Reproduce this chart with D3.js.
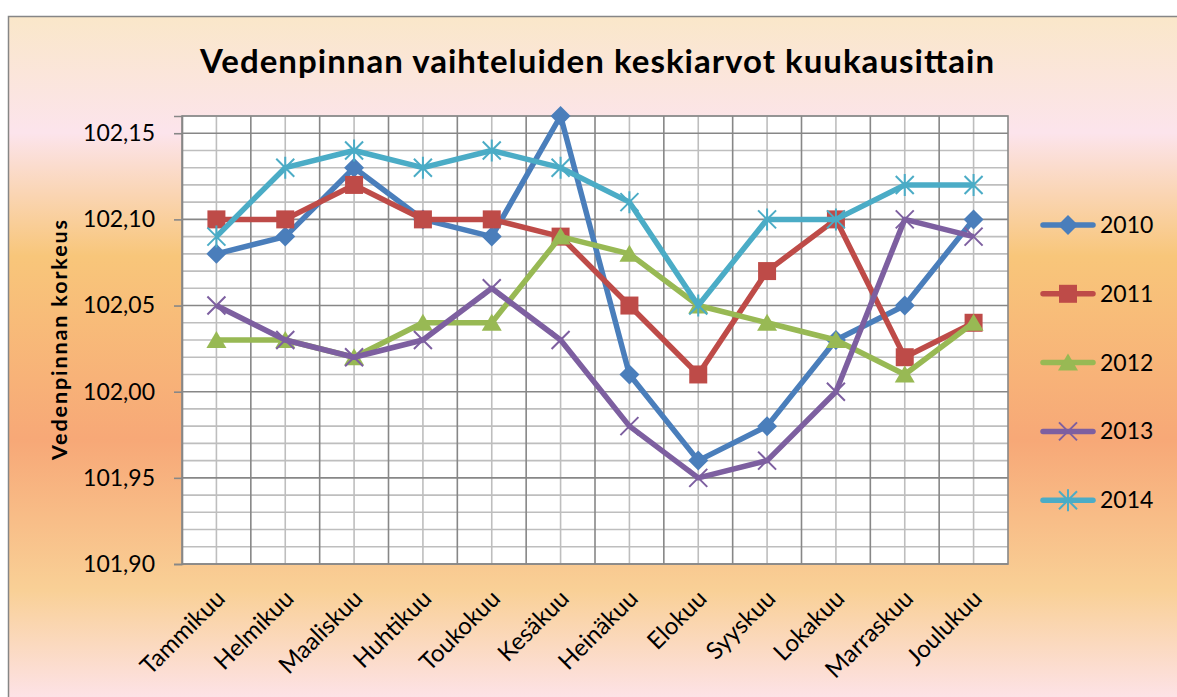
<!DOCTYPE html>
<html>
<head>
<meta charset="utf-8">
<script src="https://cdn.jsdelivr.net/npm/d3@7"></script>
<style>
  body { margin: 0; background: #fff; }
  svg { display: block; font-family: Lato, "Liberation Sans", sans-serif; }
</style>
</head>
<body>
<div id="chart"></div>
<script>
const months = ['Tammikuu', 'Helmikuu', 'Maaliskuu', 'Huhtikuu', 'Toukokuu', 'Kesäkuu',
  'Heinäkuu', 'Elokuu', 'Syyskuu', 'Lokakuu', 'Marraskuu', 'Joulukuu']
const years = ['2010', '2011', '2012', '2013', '2014']
const v2010 = [102.08, 102.09, 102.13, 102.10, 102.09, 102.16, 102.01, 101.96, 101.98, 102.03, 102.05, 102.10]
const v2011 = [102.10, 102.10, 102.12, 102.10, 102.10, 102.09, 102.05, 102.01, 102.07, 102.10, 102.02, 102.04]
const v2012 = [102.03, 102.03, 102.02, 102.04, 102.04, 102.09, 102.08, 102.05, 102.04, 102.03, 102.01, 102.04]
const v2013 = [102.05, 102.03, 102.02, 102.03, 102.06, 102.03, 101.98, 101.95, 101.96, 102.00, 102.10, 102.09]
const v2014 = [102.09, 102.13, 102.14, 102.13, 102.14, 102.13, 102.11, 102.05, 102.10, 102.10, 102.12, 102.12]
const yTicks = [101.90, 101.95, 102.00, 102.05, 102.10, 102.15]
const yMin = 101.90, yMax = 102.16

const title = 'Vedenpinnan vaihteluiden keskiarvot kuukausittain'
const yTitle = 'Vedenpinnan korkeus'

const colors = ['#4a7ebb', '#be4b48', '#98b954', '#7d5fa0', '#4bacc6']
const markers = ['diamond', 'square', 'triangle', 'x', 'star']
const series = [v2010, v2011, v2012, v2013, v2014]

const W = 1177, H = 697
const svg = d3.select('#chart').append('svg')
  .attr('width', W)
  .attr('height', H)

// background gradient
const grad = svg.append('defs').append('linearGradient')
  .attr('id', 'bg')
  .attr('gradientUnits', 'userSpaceOnUse')
  .attr('x1', 0).attr('y1', 16).attr('x2', 0).attr('y2', 697)
const stops = [[16, '#fae7c9'], [133, '#fce4ec'], [256, '#f8c67a'], [440, '#f7a877'], [590, '#f9d096'], [697, '#fde2e6']]
stops.forEach(s => {
  grad.append('stop').attr('offset', (s[0] - 16) / (697 - 16)).attr('stop-color', s[1])
})

svg.append('rect')
  .attr('x', 8.5).attr('y', 16.5)
  .attr('width', 1200).attr('height', 700)
  .attr('fill', 'url(#bg)')
  .attr('stroke', '#868686')
  .attr('stroke-width', 1.5)

const pLeft = 182, pRight = 1008, pTop = 116, pBottom = 564

const x = d3.scaleBand().domain(months).range([pLeft, pRight])
const y = d3.scaleLinear().domain([yMin, yMax]).range([pBottom, pTop])
const cx = d => x(d) + x.bandwidth() / 2

const plot = svg.append('g')
plot.append('rect')
  .attr('x', pLeft).attr('y', pTop)
  .attr('width', pRight - pLeft).attr('height', pBottom - pTop)
  .attr('fill', '#fff')

// horizontal grid, minor then major
const minor = y.ticks(26).filter(v => !yTicks.some(t => Math.abs(t - v) < 1e-6))
plot.selectAll('.hminor').data(minor).enter().append('line')
  .attr('x1', pLeft).attr('x2', pRight)
  .attr('y1', d => y(d)).attr('y2', d => y(d))
  .attr('stroke', '#bebebe').attr('stroke-width', 1.6)

// vertical grid: light at category centers, dark at boundaries
plot.selectAll('.vminor').data(months).enter().append('line')
  .attr('x1', cx).attr('x2', cx)
  .attr('y1', pTop).attr('y2', pBottom)
  .attr('stroke', '#bebebe').attr('stroke-width', 1.6)

plot.selectAll('.hmajor').data(yTicks).enter().append('line')
  .attr('x1', pLeft).attr('x2', pRight)
  .attr('y1', d => y(d)).attr('y2', d => y(d))
  .attr('stroke', '#878787').attr('stroke-width', 1.6)

plot.selectAll('.vmajor').data(months.slice(1)).enter().append('line')
  .attr('x1', d => x(d)).attr('x2', d => x(d))
  .attr('y1', pTop).attr('y2', pBottom)
  .attr('stroke', '#878787').attr('stroke-width', 1.6)

plot.append('rect')
  .attr('x', pLeft).attr('y', pTop)
  .attr('width', pRight - pLeft).attr('height', pBottom - pTop)
  .attr('fill', 'none')
  .attr('stroke', '#878787').attr('stroke-width', 1.6)

// y axis
const yAxis = svg.append('g')
  .attr('transform', `translate(${pLeft},0)`)
  .call(d3.axisLeft(y).tickValues(yTicks).tickSize(8).tickPadding(19)
    .tickFormat(d => d3.format('.2f')(d).replace('.', ',')))
yAxis.select('.domain').attr('stroke', '#878787').attr('stroke-width', 1.6)
yAxis.selectAll('.tick line').attr('stroke', '#878787').attr('stroke-width', 1.6)
yAxis.selectAll('.tick text')
  .attr('fill', '#000')
  .style('font-size', '23px')
  .style('font-family', 'Lato, "Liberation Sans", sans-serif')

// x labels
svg.selectAll('.xlab').data(months).enter().append('text')
  .attr('text-anchor', 'end')
  .attr('transform', d => `translate(${cx(d) + 10},${pBottom + 36}) rotate(-45)`)
  .style('font-size', '24px')
  .text(d => d)

// titles
svg.append('text')
  .attr('x', 597).attr('y', 73)
  .attr('text-anchor', 'middle')
  .attr('textLength', 794)
  .style('font-size', '33px')
  .style('font-weight', 'bold')
  .text(title)

svg.append('text')
  .attr('transform', 'translate(67,340) rotate(-90)')
  .attr('text-anchor', 'middle')
  .attr('textLength', 240)
  .style('font-size', '21.5px')
  .style('font-weight', 'bold')
  .text(yTitle)

// marker paths
function markerPath(type) {
  if (type === 'diamond') return 'M0,-10L10,0L0,10L-10,0Z'
  if (type === 'square') return 'M-9,-9H9V9H-9Z'
  if (type === 'triangle') return 'M0,-9L10,8H-10Z'
  if (type === 'x') return 'M-9,-9L9,9M-9,9L9,-9'
  return 'M-9,-9L9,9M-9,9L9,-9M0,-11V11'
}
function drawMarker(g, type, color) {
  const open = type === 'x' || type === 'star'
  g.append('path')
    .attr('d', markerPath(type))
    .attr('fill', open ? 'none' : color)
    .attr('stroke', color)
    .attr('stroke-width', open ? 2 : 0)
}

const line = d3.line()
  .x((d, i) => cx(months[i]))
  .y(d => y(d))

series.forEach((s, k) => {
  const g = svg.append('g')
  g.append('path')
    .datum(s)
    .attr('d', line)
    .attr('fill', 'none')
    .attr('stroke', colors[k])
    .attr('stroke-width', 5.5)
    .attr('stroke-linejoin', 'round')
  s.forEach((v, i) => {
    const m = g.append('g')
      .attr('transform', `translate(${cx(months[i])},${y(v)})`)
    drawMarker(m, markers[k], colors[k])
  })
})

// legend
const legend = svg.append('g').attr('transform', 'translate(1040,225)')
years.forEach((yr, k) => {
  const g = legend.append('g').attr('transform', `translate(0,${k * 68.8})`)
  g.append('line')
    .attr('x1', 3).attr('x2', 53)
    .attr('stroke', colors[k])
    .attr('stroke-width', 5.5)
    .attr('stroke-linecap', 'round')
  const m = g.append('g').attr('transform', 'translate(28,0)')
  drawMarker(m, markers[k], colors[k])
  g.append('text')
    .attr('x', 60)
    .attr('dy', '0.35em')
    .style('font-size', '23px')
    .text(yr)
})
</script>
</body>
</html>
